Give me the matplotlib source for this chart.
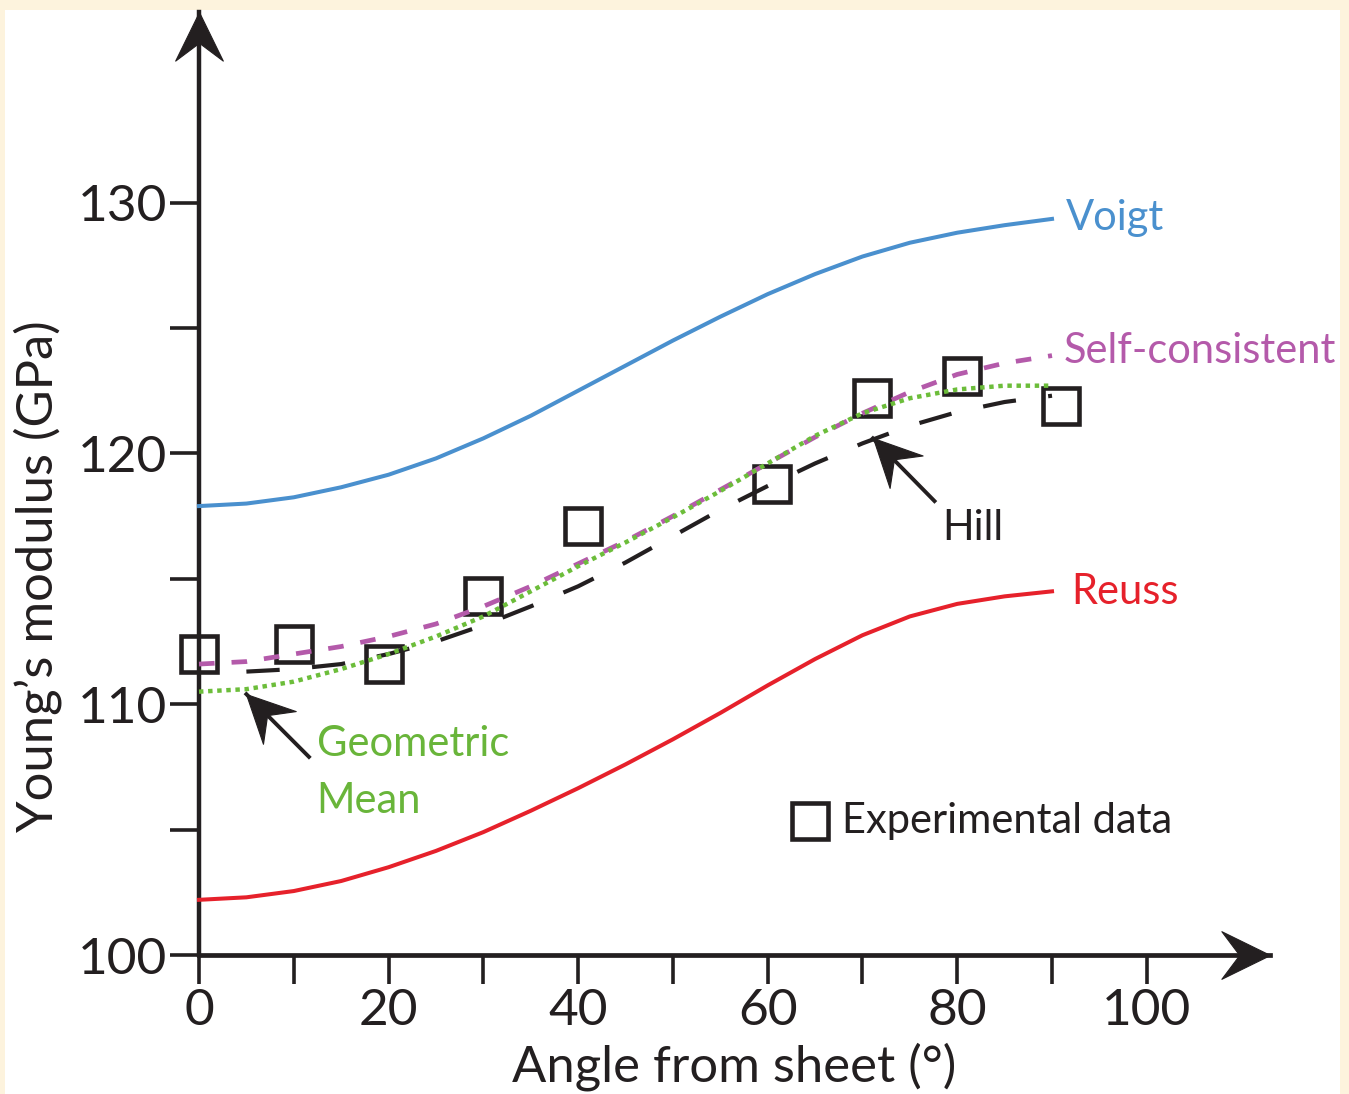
import numpy as np
import matplotlib
matplotlib.use("Agg")
import matplotlib.pyplot as plt
from matplotlib.path import Path
from matplotlib.markers import MarkerStyle
from matplotlib.transforms import Affine2D
from matplotlib.patches import Rectangle

plt.rcParams['font.family'] = ['Lato', 'DejaVu Sans']

# ---- data ----
angle = [0, 5, 10, 15, 20, 25, 30, 35, 40, 45, 50, 55, 60, 65, 70, 75, 80, 85, 90]
voigt = [117.9, 118.0, 118.25, 118.65, 119.15, 119.8, 120.6, 121.5, 122.5, 123.5,
         124.5, 125.45, 126.35, 127.15, 127.85, 128.4, 128.8, 129.1, 129.35]
reuss = [102.2, 102.3, 102.55, 102.95, 103.5, 104.15, 104.9, 105.75, 106.65, 107.6,
         108.6, 109.65, 110.75, 111.8, 112.75, 113.5, 114.0, 114.3, 114.5]
self_consistent = [111.6, 111.7, 112.0, 112.3, 112.7, 113.2, 113.9, 114.7, 115.6, 116.5,
                   117.5, 118.55, 119.6, 120.65, 121.6, 122.45, 123.15, 123.6, 123.9]
geometric = [110.5, 110.6, 110.9, 111.4, 112.0, 112.7, 113.5, 114.5, 115.5, 116.45,
             117.45, 118.5, 119.6, 120.7, 121.6, 122.2, 122.55, 122.7, 122.7]
hill_angle = angle[1:]
hill = [111.3, 111.4, 111.6, 112.0, 112.5, 113.15, 113.9, 114.7, 115.65,
        116.7, 117.75, 118.7, 119.6, 120.4, 121.1, 121.65, 122.05, 122.3]

exp_angle = [0, 10, 19.5, 30, 40.5, 60.5, 71, 80.5, 91]
exp_E = [112.0, 112.4, 111.6, 114.3, 117.1, 118.8, 122.2, 123.1, 121.9]

xticks_major = [0, 20, 40, 60, 80, 100]
xticks_minor = [10, 30, 50, 70, 90]
yticks_major = [100, 110, 120, 130]
yticks_minor = [105, 115, 125]

BLUE = '#4a90ce'
RED = '#e6212b'
PURPLE = '#b45aaa'
GREEN = '#6cbd3a'
GREEN_TXT = '#69b53a'
INK = '#231f20'

XMAX, YMAX = 113.0, 137.6

fig = plt.figure(figsize=(13.49, 10.94), dpi=100, facecolor='#fdf3dd')
fig.patches.append(Rectangle((5 / 1349, 0), 1335 / 1349, 1084 / 1094,
                             transform=fig.transFigure, facecolor='white',
                             edgecolor='none', zorder=-10))
ax = fig.add_axes([199 / 1349, 139 / 1094, 1071 / 1349, 943 / 1094])
ax.set_zorder(1)
ax.set_facecolor('none')
ax.set_xlim(0, XMAX)
ax.set_ylim(100, YMAX)

# ---- curves ----
smooth = dict(solid_joinstyle='round', dash_joinstyle='round', clip_on=False)
ax.plot(angle, voigt, color=BLUE, lw=2.9, zorder=4, **smooth)
ax.plot(angle, reuss, color=RED, lw=2.9, zorder=4, **smooth)
ax.plot(angle, self_consistent, color=PURPLE, lw=3.4, dashes=(3.3, 3.6),
        zorder=4, **smooth)
ax.plot(hill_angle, hill, color=INK, lw=3.0, dashes=(8.0, 7.8),
        zorder=4, **smooth)
ax.plot(angle, geometric, color=GREEN, lw=3.2, dashes=(1.0, 1.05),
        zorder=5, **smooth)
ax.plot(exp_angle, exp_E, ls='none', marker='s', ms=26.5, mfc='none',
        mec=INK, mew=3.3, clip_on=False, zorder=3)

# ---- axes styling ----
for side in ('top', 'right'):
    ax.spines[side].set_visible(False)
ax.spines['left'].set_linewidth(3.2)
ax.spines['bottom'].set_linewidth(3.4)
ax.spines['left'].set_color(INK)
ax.spines['bottom'].set_color(INK)

ax.set_xticks(xticks_major)
ax.set_xticks(xticks_minor, minor=True)
ax.set_yticks(yticks_major)
ax.set_yticks(yticks_minor, minor=True)
ax.tick_params(which='both', direction='out', length=21, width=2.6, color=INK)
ax.tick_params(axis='x', which='major', labelsize=37, labelcolor=INK, pad=3)
ax.tick_params(axis='y', which='major', labelsize=37, labelcolor=INK, pad=2)

ax.set_xlabel('Angle from sheet (°)', fontsize=36.5, color=INK)
ax.xaxis.set_label_coords(0.5, -0.093)
ax.set_ylabel('Young\u2019s modulus (GPa)', fontsize=36.5, color=INK)
ax.yaxis.set_label_coords(-0.128, 0.402)

# ---- arrow heads ----
ARROW = Path([(0, 0), (-24, -49), (0, -31), (24, -49), (0, 0)],
             [Path.MOVETO, Path.LINETO, Path.LINETO, Path.LINETO, Path.CLOSEPOLY])


def arrowhead(x, y, rot, size=70):
    m = MarkerStyle(ARROW, transform=Affine2D().rotate_deg(rot))
    ax.plot([x], [y], ls='none', marker=m, ms=size, color=INK, mew=0.8,
            clip_on=False, zorder=6)


arrowhead(0, YMAX, 0)
arrowhead(XMAX, 100, -90)


def pointer(tail, tip):
    ax.plot([tail[0], tip[0]], [tail[1], tip[1]], color=INK, lw=2.8,
            clip_on=False, zorder=6)
    p0 = ax.transData.transform(tail)
    p1 = ax.transData.transform(tip)
    d = p1 - p0
    rot = np.degrees(np.arctan2(-d[0], d[1]))
    arrowhead(tip[0], tip[1], rot, size=68)


pointer((77.6, 118.1), (71.1, 120.6))
pointer((11.6, 107.9), (5.0, 110.4))

# ---- labels ----
fs = 30
ax.text(91.5, 128.92, 'Voigt', color=BLUE, fontsize=fs, va='baseline')
ax.text(91.2, 123.6, 'Self-consistent', color=PURPLE, fontsize=fs, va='baseline')
ax.text(92.0, 114.0, 'Reuss', color=RED, fontsize=fs, va='baseline')
ax.text(78.4, 116.56, 'Hill', color=INK, fontsize=fs, va='baseline')
ax.text(12.4, 107.92, 'Geometric', color=GREEN_TXT, fontsize=fs, va='baseline')
ax.text(12.4, 105.68, 'Mean', color=GREEN_TXT, fontsize=fs, va='baseline')

ax.plot([64.5], [105.34], ls='none', marker='s', ms=26.5, mfc='none',
        mec=INK, mew=3.3, clip_on=False)
ax.text(67.85, 104.88, 'Experimental data', color=INK, fontsize=fs, va='baseline')

fig.savefig('out.png', dpi=100, facecolor=fig.get_facecolor())
